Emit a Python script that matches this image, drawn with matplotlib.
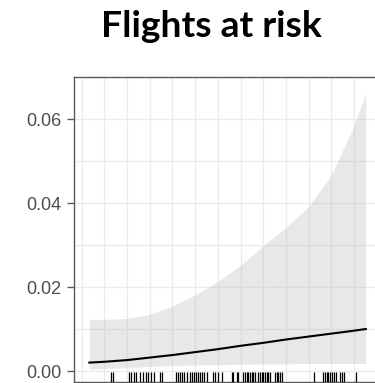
import matplotlib
matplotlib.use("Agg")
import matplotlib.pyplot as plt
import matplotlib.transforms as mtransforms

# fitted risk curve with its confidence band
x_fit = [0.335, 1, 2, 3, 4, 5, 6, 7, 8, 9, 10, 11, 12, 12.52]
fit = [0.0020, 0.0022, 0.0026, 0.0032, 0.0038, 0.0045, 0.0052,
       0.0060, 0.0067, 0.0075, 0.0082, 0.0089, 0.0096, 0.0100]
upper = [0.0123, 0.0123, 0.0125, 0.0135, 0.0155, 0.0181, 0.0213,
         0.0252, 0.0298, 0.0342, 0.0392, 0.0466, 0.0585, 0.0661]
lower = [0.0004, 0.0006, 0.0008, 0.0011, 0.0013, 0.0014, 0.0015,
         0.0016, 0.0017, 0.0017, 0.0018, 0.0018, 0.0018, 0.0018]

# observed flights (rug)
rug_x = [1.29, 1.38,
         2.07, 2.17, 2.29, 2.39, 2.55, 2.70,
         2.83, 2.92, 3.04, 3.19, 3.45, 3.52,
         4.14, 4.23, 4.33, 4.43, 4.52, 4.63,
         4.77, 4.85, 4.95, 5.02, 5.11, 5.21, 5.29, 5.40, 5.51,
         5.77, 5.87, 5.99,
         6.17, 6.61, 6.68, 6.83, 6.90,
         7.12, 7.19, 7.27, 7.34, 7.41, 7.49, 7.56, 7.63,
         7.78, 7.85, 7.93, 8.00, 8.07, 8.15, 8.22, 8.30,
         8.52, 8.59, 8.66, 8.74, 8.81,
         10.25, 10.64, 10.72, 10.79, 10.86, 10.94, 11.01, 11.13, 11.20,
         11.38, 11.45, 11.56, 12.08]

y_ticks = [0.00, 0.02, 0.04, 0.06]
y_labels = ["0.00", "0.02", "0.04", "0.06"]

W, H = 375, 383
fig = plt.figure(figsize=(W / 100, H / 100), dpi=100)
ax = fig.add_axes([74 / W, 1.5 / H, (381.3 - 74) / W, (381.5 - 77) / H])

ax.set_xlim(-0.34, 13.2)
ax.set_ylim(-0.0025, 0.0700)

# grid like theme_bw
ax.set_xticks(range(0, 14))
ax.set_yticks([0.01, 0.03, 0.05], minor=True)
ax.set_yticks(y_ticks)
ax.set_yticklabels(y_labels)
ax.grid(True, which="both", color="#EBEBEB", linewidth=1.0, zorder=0)
ax.set_axisbelow(True)

ax.fill_between(x_fit, lower, upper, color="#BEBEBE", alpha=0.35,
                linewidth=0, zorder=1)
ax.plot(x_fit, fit, color="black", linewidth=1.5, zorder=3)

trans = mtransforms.blended_transform_factory(ax.transData, ax.transAxes)
ax.vlines(rug_x, 0, 0.03, transform=trans, color="black",
          linewidth=0.9, zorder=3)

for s in ax.spines.values():
    s.set_color("#595959")
    s.set_linewidth(1.0)

ax.tick_params(axis="y", which="major", length=5, width=1, color="#595959",
               labelcolor="#4D4D4D", labelsize=13, pad=4)
ax.tick_params(axis="y", which="minor", length=0)
ax.tick_params(axis="x", which="both", length=0, labelbottom=False)
for lab in ax.get_yticklabels():
    lab.set_fontfamily("Liberation Sans")

fig.text(211 / W, 1 - 36.7 / H, "Flights at risk", ha="center",
         va="baseline", fontsize=26.8, fontweight="bold", family="Lato")

fig.savefig("out.png", dpi=100)
